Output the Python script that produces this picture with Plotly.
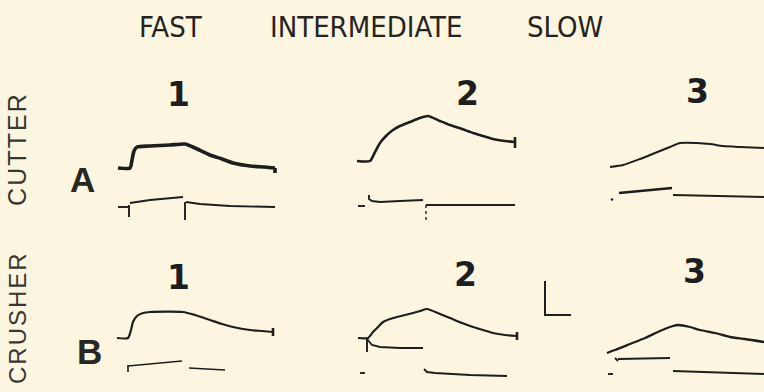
import plotly.graph_objects as go

# ---- recorded traces: time (ms) and tension (arbitrary units, baseline-relative) ----
# Row A: cutter muscle
A1_T = [8, 20, 22, 24, 27, 40, 60, 75, 85, 100, 112, 123, 140, 155, 165]
A1_V = [57, 57, 65, 74, 78, 79, 80, 81, 77, 70, 66, 62, 59, 58, 57]
A1_END = [57, 52]
A1_STIM = [
    ([8, 19], [18, 18]),
    ([19, 19], [20, 8]),
    ([20, 40, 73], [22, 25, 28]),
    ([75, 75], [23, 5]),
    ([76, 90, 120, 165], [23, 21, 19, 18]),
]

A2_T = [7, 20, 25, 30, 36, 43, 50, 60, 70, 78, 90, 100, 112, 123, 133, 143, 155, 165]
A2_V = [64, 64, 73, 82, 89, 95, 99, 103, 107, 109, 104, 100, 96, 92, 89, 86, 84, 83]
A2_END = [88, 77]
A2_STIM = [
    ([8, 15], [19, 19]),
    ([19, 19, 22, 30, 50, 73], [30, 26, 24, 23, 24, 25]),
    ([76, 165], [20, 20]),
]
A2_MARK = ([76, 76], [20, 2])

A3_T = [10, 23, 40, 55, 70, 80, 97, 110, 123, 140, 164]
A3_V = [58, 60, 66, 72, 78, 82, 82, 81, 79, 78, 77]
A3_STIM = [
    ([11, 13], [26, 25]),
    ([19, 72], [32, 37]),
    ([73, 164], [30, 28]),
]

# Row B: crusher muscle
B1_T = [7, 18, 21, 23, 27, 33, 40, 73, 85, 100, 112, 123, 140, 152, 163]
B1_V = [47, 47, 55, 63, 69, 72, 73, 73, 70, 65, 61, 58, 55, 54, 53]
B1_END = [57, 49]
B1_STIM = [
    ([18, 18], [20, 13]),
    ([18, 72], [19, 24]),
    ([79, 115], [17, 15]),
]

B2_T = [8, 18, 23, 28, 33, 40, 47, 55, 63, 70, 77, 90, 100, 112, 123, 133, 143, 155, 167]
B2_V = [47, 47, 53, 58, 63, 66, 68, 70, 72, 74, 76, 71, 67, 62, 58, 55, 52, 50, 49]
B2_END = [53, 45]
B2_STIM = [
    ([17, 17], [47, 33]),
    ([17, 22, 30, 50, 73], [46, 40, 38, 37, 37]),
    ([10, 15], [12, 12]),
    ([74, 77, 85, 120, 157], [16, 13, 12, 10, 9]),
]

B3_T = [7, 12, 15, 30, 45, 60, 73, 78, 90, 100, 115, 130, 145, 164]
B3_V = [32, 34, 35, 41, 47, 54, 59, 60, 58, 55, 52, 48, 46, 43]
B3_STIM = [
    ([15, 18], [27, 24]),
    ([18, 70], [26, 27]),
    ([8, 13], [11, 11]),
    ([73, 164], [14, 11]),
]

# calibration bar (time, tension) drawn beside panel B2
SCALE_T0, SCALE_V0 = 195, 70
SCALE_MS, SCALE_TENSION = 26, 34

COLUMNS = ["FAST", "INTERMEDIATE", "SLOW"]
ROWS = ["CUTTER", "CRUSHER"]
ROW_LETTERS = ["A", "B"]
PANEL_NUMBERS = ["1", "2", "3"]

W, H = 764, 392
INK = "#1e1e1e"
PAPER = "#FCF6E1"

# panel boxes in page pixels: (left, right) per column, (top, bottom) per row
COL_BOX = [(110, 285), (350, 600), (600, 764)]
ROW_BOX = [(110, 225), (275, 385)]

fig = go.Figure()


def axis_ids(r, c):
    n = r * 3 + c + 1
    return ("x" if n == 1 else f"x{n}"), ("y" if n == 1 else f"y{n}"), n


for r in range(2):
    for c in range(3):
        xa, ya, n = axis_ids(r, c)
        l, rr = COL_BOX[c]
        t, b = ROW_BOX[r]
        common = dict(visible=False, showgrid=False, zeroline=False, fixedrange=True)
        fig.layout[f"xaxis{'' if n == 1 else n}"] = dict(
            domain=[l / W, rr / W], range=[0, rr - l], anchor=ya, **common)
        fig.layout[f"yaxis{'' if n == 1 else n}"] = dict(
            domain=[1 - b / H, 1 - t / H], range=[0, b - t], anchor=xa, **common)


def line(r, c, t, v, width=2.0, dash="solid", shape="linear"):
    xa, ya, _ = axis_ids(r, c)
    fig.add_trace(go.Scatter(x=t, y=v, xaxis=xa, yaxis=ya, mode="lines",
                             line=dict(color=INK, width=width, dash=dash,
                                       shape=shape, smoothing=0.6),
                             hoverinfo="skip", showlegend=False))


def segments(r, c, segs, width=1.8):
    xs, ys = [], []
    for t, v in segs:
        xs += list(t) + [None]
        ys += list(v) + [None]
    line(r, c, xs, ys, width)


# row A
line(0, 0, A1_T, A1_V, 3.6, shape="spline")
line(0, 0, [A1_T[-1]] * 2, A1_END, 3.6)
segments(0, 0, A1_STIM, 1.9)

line(0, 1, A2_T, A2_V, 2.6, shape="spline")
line(0, 1, [A2_T[-1]] * 2, A2_END, 2.6)
segments(0, 1, A2_STIM, 1.9)
line(0, 1, A2_MARK[0], A2_MARK[1], 1.4, "dot")

line(0, 2, A3_T, A3_V, 2.0, shape="spline")
segments(0, 2, A3_STIM[:1], 2.2)
segments(0, 2, A3_STIM[1:2], 2.6)
segments(0, 2, A3_STIM[2:], 2.1)

# row B
line(1, 0, B1_T, B1_V, 2.2, shape="spline")
line(1, 0, [B1_T[-1]] * 2, B1_END, 2.6)
segments(1, 0, B1_STIM, 1.6)

line(1, 1, B2_T, B2_V, 2.2, shape="spline")
line(1, 1, [B2_T[-1]] * 2, B2_END, 2.6)
segments(1, 1, B2_STIM, 1.9)

line(1, 2, B3_T, B3_V, 2.3, shape="spline")
segments(1, 2, B3_STIM, 1.9)

# calibration bar
line(1, 1, [SCALE_T0, SCALE_T0, SCALE_T0 + SCALE_MS],
     [SCALE_V0 + SCALE_TENSION, SCALE_V0, SCALE_V0], 2.0)

# ---- labels ----
HEAD_X = [171, 366, 565]
NUM_XY = [[(178, 93), (467, 92), (697, 90)], [(178, 276), (465, 273), (694, 270)]]
LETTER_XY = [(82, 179), (89, 350)]
ROW_LABEL_XY = [(17, 150), (17, 319)]


def label(x, y, text, size, family, color=INK, weight="normal", angle=0):
    fig.add_annotation(x=x / W, y=1 - y / H, xref="paper", yref="paper",
                       text=text, showarrow=False, textangle=angle,
                       xanchor="center", yanchor="middle",
                       font=dict(size=size, family=family, color=color, weight=weight))


def spaced(word):
    return "\u200a".join(word)


narrow = "Liberation Sans Narrow, DejaVu Sans Condensed, Arial Narrow, sans-serif"
for hx, name in zip(HEAD_X, COLUMNS):
    label(hx, 27, name, 29, narrow, color="#262320")

for r in range(2):
    for c in range(3):
        x, y = NUM_XY[r][c]
        label(x, y + 1, PANEL_NUMBERS[c], 33, "DejaVu Sans", weight="bold")
    lx, ly = LETTER_XY[r]
    label(lx, ly + 1, ROW_LETTERS[r], 35, "Liberation Sans", color="#2a2622", weight="bold")
    rx, ry = ROW_LABEL_XY[r]
    label(rx, ry, spaced(ROWS[r]), 25 if r == 0 else 24, "Liberation Sans",
          color="#3a3631", angle=-90)

fig.update_layout(width=W, height=H, margin=dict(l=0, r=0, t=0, b=0),
                  paper_bgcolor=PAPER, plot_bgcolor=PAPER)

fig.write_html("out.html")
